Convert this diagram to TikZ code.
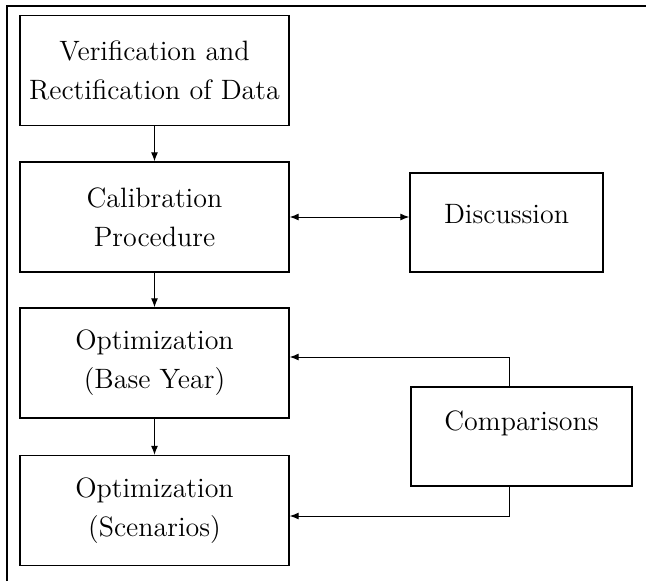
\documentclass[tikz,border=0pt]{standalone}
\usetikzlibrary{arrows.meta}
\begin{document}
\begin{tikzpicture}[x=0.4pt, y=-0.4pt, >={Latex[length=3.6pt,width=2.8pt]},
    box/.style={draw, line width=0.55pt, inner sep=0pt, align=center,
        font=\fontsize{11.2}{15.5}\selectfont},
    stage/.style={box, minimum width=107.6pt, minimum height=44pt},
    side/.style={box, minimum height=39.6pt}]
    \useasboundingbox (0,0) rectangle (646,581);
    % frame
    \draw[line width=0.8pt] (7,581) -- (7,6) -- (646,6);
    % main column
    \node[stage] (verif) at (154.5,70.5) {Verification and\\Rectification of Data};
    \node[stage] (calib) at (154.5,217) {Calibration\\Procedure};
    \node[stage] (optbase) at (154.5,363) {Optimization\\(Base Year)};
    \node[stage] (optscen) at (154.5,510.5) {Optimization\\(Scenarios)};
    % side boxes
    \node[side, minimum width=77.2pt, text depth=6.8pt] (disc) at (506.5,222.5) {Discussion};
    \node[side, minimum width=88.4pt, text depth=13pt] (comp) at (521.5,436.5) {Comparisons};
    \coordinate (compup) at (509,357);
    \coordinate (compdown) at (509,516);
    % connectors
    \draw[->] (verif) -- (calib);
    \draw[->] (calib) -- (optbase);
    \draw[->] (optbase) -- (optscen);
    \draw[<->] (calib.east) -- (calib.east -| disc.west);
    \draw[->] (comp.north -| compup) -- (compup) -- (compup -| optbase.east);
    \draw[->] (comp.south -| compdown) -- (compdown) -- (compdown -| optscen.east);
\end{tikzpicture}
\end{document}
